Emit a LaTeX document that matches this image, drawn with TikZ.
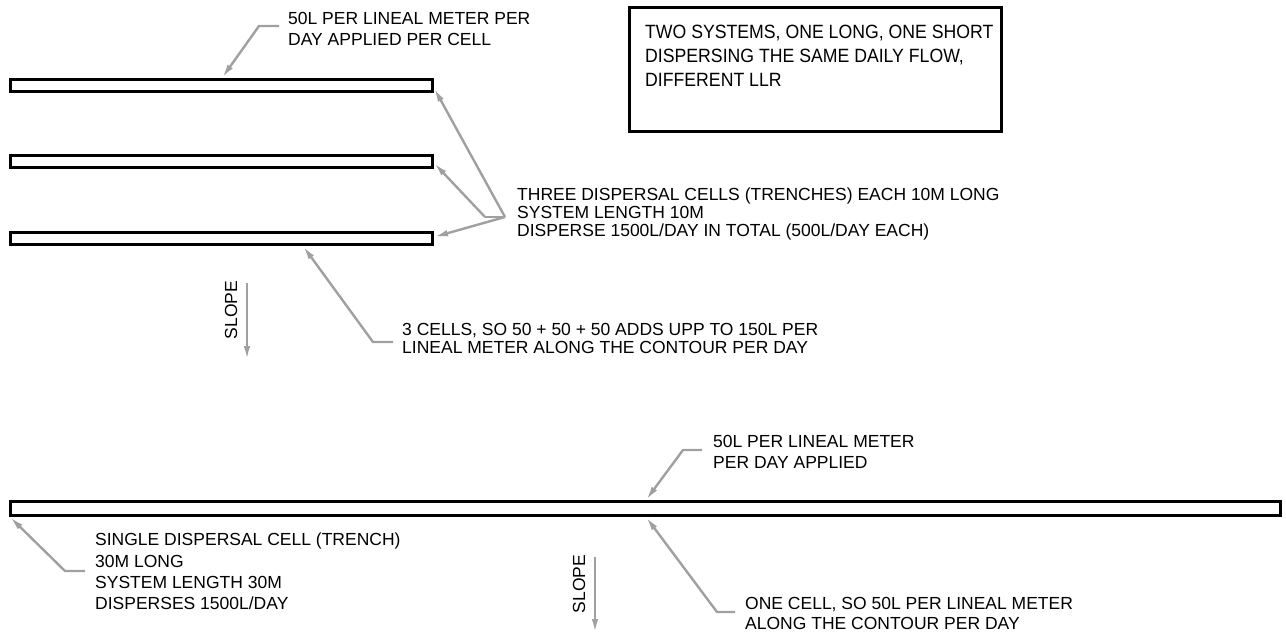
\documentclass[tikz,border=0pt]{standalone}
\usepackage{fontspec}
\setmainfont{Liberation Sans}
\newfontfamily\titlefont[FakeStretch=0.92]{Liberation Sans}
\usetikzlibrary{arrows.meta}
\definecolor{leadgray}{HTML}{A0A0A0}
\tikzset{
  trench/.style={draw=black, fill=white, line width=3pt, rectangle, inner sep=0pt},
  leader/.style={draw=leadgray, line width=2.4pt, -{Latex[length=14pt,width=6.5pt]}},
  plainline/.style={draw=leadgray, line width=2.4pt},
  lbl/.style={anchor=north west, inner sep=0pt, align=left, font=\fontsize{17.5}{#1}\selectfont},
  lbl/.default=20.5,
  slopetext/.style={rotate=90, inner sep=0pt, font=\fontsize{17.5}{20}\selectfont},
  titlebox/.style={draw=black, line width=3pt, rectangle, inner sep=0pt}
}
\begin{document}
\begin{tikzpicture}[x=1pt,y=-1pt]
\useasboundingbox (0,0) rectangle (1286,635);
\fill[white] (0,0) rectangle (1286,635);

% title
\node[titlebox, minimum width=372pt, minimum height=124pt] (tbox) at (815.5,69.5) {};
\node[anchor=north west, inner sep=0pt, align=left, font=\titlefont\fontsize{19.2}{24}\selectfont] (title) at (645,25)
  {TWO SYSTEMS, ONE LONG, ONE SHORT\\DISPERSING THE SAME DAILY FLOW,\\DIFFERENT LLR};

% trenches (short system)
\node[trench, minimum width=422pt, minimum height=12pt] (r1) at (221.5,85.5) {};
\node[trench, minimum width=422pt, minimum height=12pt] (r2) at (221.5,161.5) {};
\node[trench, minimum width=422pt, minimum height=12pt] (r3) at (221.5,238.5) {};

% long trench
\node[trench, minimum width=1270pt, minimum height=14pt] (r4) at (645.5,508.5) {};

% labels
\node[lbl=21] (la) at (288,12) {50L PER LINEAL METER PER\\DAY APPLIED PER CELL};
\node[lbl=18] (lb) at (517,188) {THREE DISPERSAL CELLS (TRENCHES) EACH 10M LONG\\SYSTEM LENGTH 10M\\DISPERSE 1500L/DAY IN TOTAL (500L/DAY EACH)};
\node[lbl=18.5] (lc) at (402,323) {3 CELLS, SO 50 + 50 + 50 ADDS UPP TO 150L PER\\LINEAL METER ALONG THE CONTOUR PER DAY};
\node[lbl=21.3] (ld) at (95,533) {SINGLE DISPERSAL CELL (TRENCH)\\30M LONG\\SYSTEM LENGTH 30M\\DISPERSES 1500L/DAY};
\node[lbl=21] (le) at (713,435) {50L PER LINEAL METER\\PER DAY APPLIED};
\node[lbl=20] (lf) at (745,597) {ONE CELL, SO 50L PER LINEAL METER\\ALONG THE CONTOUR PER DAY};

\node[slopetext] (s1) at (231,310) {SLOPE};
\node[slopetext] (s2) at (579,584) {SLOPE};

% leader coordinates
\coordinate (a0) at (279,26);   \coordinate (a1) at (259,26);   \coordinate (ta) at (222,78);
\coordinate (b0) at (505,217);  \coordinate (b1) at (485,217);
\coordinate (tb1) at (434,88);  \coordinate (tb2) at (434,163); \coordinate (tb3) at (434,237);
\coordinate (c0) at (393,342);  \coordinate (c1) at (373,342);  \coordinate (tc) at (303,246);
\coordinate (d0) at (85,571);   \coordinate (d1) at (65,571);   \coordinate (td) at (10,517);
\coordinate (e0) at (702,450);  \coordinate (e1) at (683,450);  \coordinate (te) at (646,500);
\coordinate (f0) at (735,612);  \coordinate (f1) at (717,612);  \coordinate (tf) at (646,517);
\coordinate (s1a) at (247,283); \coordinate (s1b) at (247,360);
\coordinate (s2a) at (595,557); \coordinate (s2b) at (595,633);

% leaders
\draw[leader] (a0) -- (a1) -- (ta);
\draw[plainline] (b0) -- (b1);
\draw[leader] (b0) -- (tb1);
\draw[leader] (b1) -- (tb2);
\draw[leader] (b0) -- (tb3);
\draw[leader] (c0) -- (c1) -- (tc);
\draw[leader] (d0) -- (d1) -- (td);
\draw[leader] (e0) -- (e1) -- (te);
\draw[leader] (f0) -- (f1) -- (tf);
\draw[leader] (s1a) -- (s1b);
\draw[leader] (s2a) -- (s2b);
\end{tikzpicture}
\end{document}
